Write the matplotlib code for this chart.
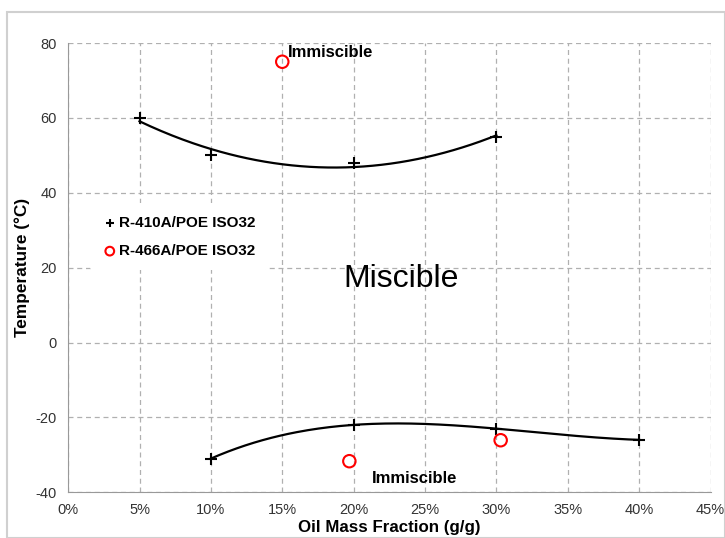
import numpy as np
import matplotlib.pyplot as plt
from matplotlib.ticker import PercentFormatter, MultipleLocator
from matplotlib.patches import Rectangle

plt.rcParams['font.family'] = ['Liberation Sans', 'DejaVu Sans']
plt.rcParams['axes.unicode_minus'] = False

# R-410A/POE ISO32 miscibility limits (upper and lower)
r410_upper_x = [0.05, 0.10, 0.20, 0.30]
r410_upper_t = [60, 50, 48, 55]
r410_lower_x = [0.10, 0.20, 0.30, 0.40]
r410_lower_t = [-31, -22, -23, -26]

# R-466A/POE ISO32 points
r466_x = [0.15, 0.197, 0.303]
r466_t = [75, -31.7, -26.1]

fig = plt.figure(figsize=(7.25, 5.38), dpi=100)
ax = fig.add_axes([0.094, 0.085, 0.886, 0.835])

# light frame round the whole picture
fig.patches.append(Rectangle((0.01, 0.0), 0.99, 0.978, transform=fig.transFigure,
                             fill=False, edgecolor='#d0d0d0', lw=1.5))

# trendlines
c_up = np.polyfit(r410_upper_x, r410_upper_t, 2)
xs = np.linspace(min(r410_upper_x), max(r410_upper_x), 200)
ax.plot(xs, np.polyval(c_up, xs), color='black', lw=1.6, zorder=3)

c_lo = np.polyfit(r410_lower_x, r410_lower_t, 3)
xs = np.linspace(min(r410_lower_x), max(r410_lower_x), 200)
ax.plot(xs, np.polyval(c_lo, xs), color='black', lw=1.6, zorder=3)

ax.scatter(r410_upper_x + r410_lower_x, r410_upper_t + r410_lower_t, marker='+',
           s=75, color='black', linewidths=1.5, zorder=4, label='R-410A/POE ISO32')
ax.scatter(r466_x, r466_t, marker='o', s=80, facecolors='none', edgecolors='red',
           linewidths=1.5, zorder=4, label='R-466A/POE ISO32')

ax.text(0.154, 77.4, 'Immiscible', fontsize=12, fontweight='bold', va='center')
ax.text(0.213, -36.3, 'Immiscible', fontsize=12, fontweight='bold', va='center')
ax.text(0.233, 17.0, 'Miscible', fontsize=23, ha='center', va='center')

ax.set_xlim(0, 0.45)
ax.set_ylim(-40, 80)
ax.xaxis.set_major_locator(MultipleLocator(0.05))
ax.yaxis.set_major_locator(MultipleLocator(20))
ax.xaxis.set_major_formatter(PercentFormatter(1, decimals=0))
ax.tick_params(length=0, labelsize=10.5, colors='#333333', pad=8)
ax.grid(True, linestyle=(0, (4, 3)), color='#b0b0b0', lw=0.9)
for s in ['top', 'right']:
    ax.spines[s].set_visible(False)
for s in ['left', 'bottom']:
    ax.spines[s].set_color('#999999')

ax.set_xlabel('Oil Mass Fraction (g/g)', fontsize=12.2, fontweight='bold', labelpad=2)
ax.set_ylabel('Temperature (°C)', fontsize=12.4, fontweight='bold', labelpad=4)

leg = ax.legend(loc='upper left', bbox_to_anchor=(0.022, 0.66), frameon=True,
                prop={'weight': 'bold', 'size': 11}, handletextpad=0.1,
                handlelength=1.0, labelspacing=0.95, borderpad=0.8, markerscale=0.7)
leg.get_frame().set_edgecolor('none')
leg.get_frame().set_facecolor('white')
leg.get_frame().set_alpha(1)

fig.savefig('out.png', dpi=100)
